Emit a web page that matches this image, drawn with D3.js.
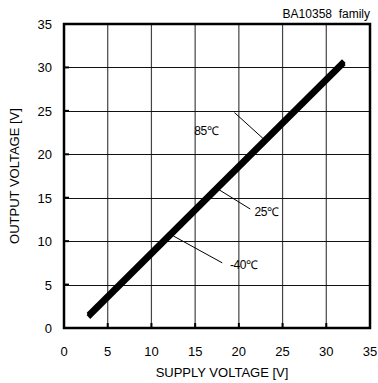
<!DOCTYPE html>
<html>
<head>
<meta charset="utf-8">
<script src="https://cdn.jsdelivr.net/npm/d3@7"></script>
<style>
  html, body { margin: 0; padding: 0; background: #fff; }
  svg { display: block; font-family: "Liberation Sans", Arial, sans-serif; }
  text { white-space: pre; }
</style>
</head>
<body>
<svg id="chart" width="378" height="383"></svg>
<script>
// Output voltage vs supply voltage, three temperatures
const supplyV = [2.8, 32.0];
const out85 = [1.55, 30.75];
const out25 = [1.4, 30.6];
const outM40 = [1.25, 30.45];
const seriesNames = ["85℃", "25℃", "-40℃"];
const xTicks = [0, 5, 10, 15, 20, 25, 30, 35];
const yTicks = [0, 5, 10, 15, 20, 25, 30, 35];
const title = "BA10358  family";
const xTitle = "SUPPLY VOLTAGE [V]";
const yTitle = "OUTPUT VOLTAGE [V]";

const svg = d3.select("#chart");
const m = { left: 64, right: 370, top: 24, bottom: 328 };
const x = d3.scaleLinear().domain([0, 35]).range([m.left, m.right]);
const y = d3.scaleLinear().domain([0, 35]).range([m.bottom, m.top]);

// grid
const g = svg.append("g");
g.selectAll("line.vx").data(xTicks.slice(1, -1)).enter().append("line")
  .attr("x1", d => x(d)).attr("x2", d => x(d))
  .attr("y1", m.top).attr("y2", m.bottom)
  .attr("stroke", "#444").attr("stroke-width", 1.2);
g.selectAll("line.hy").data(yTicks.slice(1, -1)).enter().append("line")
  .attr("y1", d => Math.round(y(d)) + 0.5).attr("y2", d => Math.round(y(d)) + 0.5)
  .attr("x1", m.left).attr("x2", m.right)
  .attr("stroke", "#111").attr("stroke-width", 1);

// inner ticks
g.selectAll("line.tx").data(xTicks.slice(1, -1)).enter().append("line")
  .attr("x1", d => x(d)).attr("x2", d => x(d))
  .attr("y1", m.bottom).attr("y2", m.bottom - 5)
  .attr("stroke", "#000").attr("stroke-width", 2);
g.selectAll("line.ty").data(yTicks.slice(1, -1)).enter().append("line")
  .attr("y1", d => y(d)).attr("y2", d => y(d))
  .attr("x1", m.left).attr("x2", m.left + 5)
  .attr("stroke", "#000").attr("stroke-width", 2);

// frame
svg.append("rect")
  .attr("x", m.left).attr("y", m.top)
  .attr("width", m.right - m.left).attr("height", m.bottom - m.top)
  .attr("fill", "none").attr("stroke", "#000").attr("stroke-width", 2.5);

// curves
const line = d3.line().x(d => x(d[0])).y(d => y(d[1]));
[out85, out25, outM40].forEach(vals => {
  svg.append("path")
    .datum(supplyV.map((v, i) => [v, vals[i]]))
    .attr("d", line)
    .attr("fill", "none").attr("stroke", "#000")
    .attr("stroke-width", 5).attr("stroke-linecap", "butt");
});

// tick labels
svg.selectAll("text.xl").data(xTicks).enter().append("text")
  .attr("x", d => x(d)).attr("y", 356)
  .attr("text-anchor", "middle").attr("font-size", 13).text(d => d);
svg.selectAll("text.yl").data(yTicks).enter().append("text")
  .attr("x", 52).attr("y", d => y(d) + 5)
  .attr("text-anchor", "end").attr("font-size", 13).text(d => d);

// axis titles
svg.append("text").attr("x", (m.left + m.right) / 2 + 5).attr("y", 377)
  .attr("text-anchor", "middle").attr("font-size", 13).text(xTitle);
svg.append("text")
  .attr("transform", `translate(19,${(m.top + m.bottom) / 2}) rotate(-90)`)
  .attr("text-anchor", "middle").attr("font-size", 13).text(yTitle);

// chart title
svg.append("text").attr("x", 370).attr("y", 18)
  .attr("text-anchor", "end").attr("font-size", 12).text(title);

// leader lines with temperature labels
const leaders = [
  { name: seriesNames[0], from: [x(19.5), y(24.8)], to: [x(22.9), y(21.7)], tx: x(14.9), ty: y(22.7) + 4 },
  { name: seriesNames[1], from: [x(17.6), y(16.0)], to: [x(21.3), y(13.7)], tx: x(21.8), ty: y(13.3) + 4 },
  { name: seriesNames[2], from: [x(12.5), y(10.6)], to: [x(18.1), y(7.5)], tx: x(19.0), ty: y(7.2) + 4 }
];
leaders.forEach(l => {
  svg.append("line")
    .attr("x1", l.from[0]).attr("y1", l.from[1])
    .attr("x2", l.to[0]).attr("y2", l.to[1])
    .attr("stroke", "#000").attr("stroke-width", 1);
  svg.append("text").attr("x", l.tx).attr("y", l.ty)
    .attr("font-size", 12).attr("letter-spacing", -0.5).text(l.name);
});
</script>
</body>
</html>
